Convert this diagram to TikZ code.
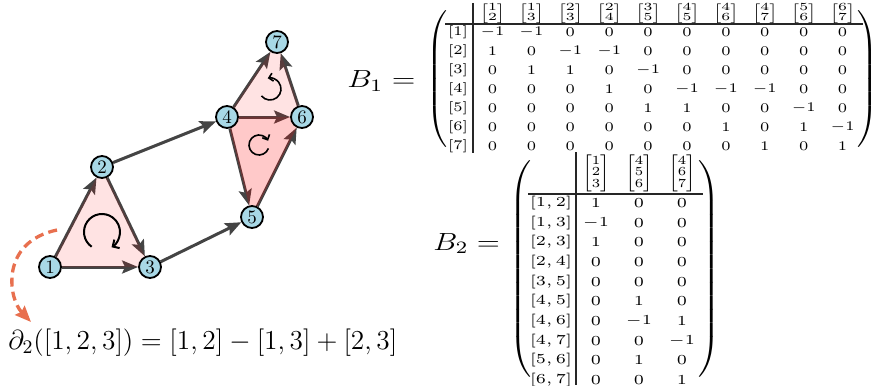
\RequirePackage{fix-cm}
\documentclass[tikz,border=0pt]{standalone}
\usepackage{amsmath}
\usepackage{graphicx}
\usetikzlibrary{arrows.meta,backgrounds}
\definecolor{edgegray}{HTML}{444444}
\definecolor{nodeblue}{HTML}{A8D8E6}
\definecolor{dashorange}{HTML}{E8704F}
\newcommand{\hdtwo}[2]{$\left[\begin{array}{@{}c@{}}#1\\#2\end{array}\right]$}
\newcommand{\hdthree}[3]{$\left[\begin{array}{@{}c@{}}#1\\#2\\#3\end{array}\right]$}
\newcommand{\lpar}[1]{{\nulldelimiterspace=0pt$\left(\vcenter{\hbox{\rule{0pt}{#1}}}\right.$}}
\newcommand{\rpar}[1]{{\nulldelimiterspace=0pt$\left.\vcenter{\hbox{\rule{0pt}{#1}}}\right)$}}
\newcommand{\sxa}[1]{\scalebox{1.15}[1]{#1}}
\newcommand{\sxb}[1]{\scalebox{1.2}[1]{#1}}
\begin{document}
\begin{tikzpicture}[x=0.5pt,y=0.5pt,
  vtx/.style={circle, draw=black, line width=0.9pt, fill=nodeblue, minimum size=11pt, inner sep=0pt, font=\fontsize{9.5}{10}\selectfont},
  edge/.style={draw=edgegray, line width=1.5pt, -{Stealth[length=8pt,width=6.5pt,inset=1.5pt]}},
  lightfill/.style={fill=red, fill opacity=0.11},
  darkfill/.style={fill=red, fill opacity=0.21},
  orient/.style={draw=black, line width=1pt, -{Straight Barb[length=2.5pt,width=5pt]}},
  orientsmall/.style={draw=black, line width=0.8pt, -{Straight Barb[length=2pt,width=4pt]}},
  enta/.style={inner sep=0pt, font=\fontsize{6.6}{7.7}\selectfont},
  entb/.style={inner sep=0pt, font=\fontsize{6.9}{8.2}\selectfont},
  hd/.style={inner sep=0pt, font=\fontsize{6}{5.5}\selectfont},
  rulel/.style={draw=black!85, line width=0.6pt},
  big/.style={inner sep=0pt, font=\fontsize{12.4}{15}\selectfont},
  paren/.style={inner sep=0pt}
]
\useasboundingbox (0,0) rectangle (882,-385);

% vertices
\node[vtx] (v1) at (50,-267) {1};
\node[vtx] (v2) at (102,-167) {2};
\node[vtx] (v3) at (150,-267) {3};
\node[vtx] (v4) at (227,-117) {4};
\node[vtx] (v5) at (252,-217) {5};
\node[vtx] (v6) at (302,-117) {6};
\node[vtx] (v7) at (277,-42) {7};

\begin{pgfonlayer}{background}
\draw[edge] (v1) -- (v2);
\draw[edge] (v1) -- (v3);
\draw[edge] (v2) -- (v3);
\draw[edge] (v2) -- (v4);
\draw[edge] (v3) -- (v5);
\draw[edge] (v4) -- (v5);
\draw[edge] (v4) -- (v6);
\draw[edge] (v4) -- (v7);
\draw[edge] (v5) -- (v6);
\draw[edge] (v6) -- (v7);
\fill[lightfill] (v1.center) -- (v2.center) -- (v3.center) -- cycle;
\fill[darkfill] (v4.center) -- (v5.center) -- (v6.center) -- cycle;
\fill[lightfill] (v4.center) -- (v6.center) -- (v7.center) -- cycle;
\end{pgfonlayer}

% orientation marks
\draw[orient] ([shift={(235:18)}]102,-232) arc[start angle=235, end angle=-58, radius=18];
\draw[orientsmall] ([shift={(219:11)}]270,-89) arc[start angle=219, end angle=462, radius=11];
\draw[orientsmall] ([shift={(-20:10)}]259,-145) arc[start angle=-20, end angle=-335, radius=10];

% boundary formula
\node[inner sep=0pt, anchor=base west, font=\fontsize{13.7}{16}\selectfont] (formula) at (8,-349)
  {$\partial_2([1,2,3]) = [1,2] - [1,3] + [2,3]$};
\coordinate (dstart) at (57,-230);
\coordinate (dend) at (31,-322);
\draw[dashorange, line width=1.65pt, dash pattern=on 4.5pt off 2.6pt,
  -{Stealth[length=8pt,width=6.5pt,inset=1pt]}]
  (dstart) .. controls (0,-242) and (8,-298) .. (dend);

% ---------- B1 ----------
\node[big, anchor=base west] (b1lab) at (347,-88) {\scalebox{1.25}[1]{$B_1 =$}};
\node[paren] (b1lp) at (437,-79) {\resizebox*{10.5pt}{68pt}{\lpar{60pt}}};
\node[paren] (b1rp) at (868,-79) {\resizebox*{10.5pt}{68pt}{\rpar{60pt}}};
\foreach \a/\b [count=\j] in {1/2,1/3,2/3,2/4,3/5,4/5,4/6,4/7,5/6,6/7}
  \node[hd] (b1h\j) at ({492.5+38.9*(\j-1)},-13.8) {\resizebox*{12.5pt}{10pt}{\hdtwo{\a}{\b}}};
\foreach \i in {1,...,7}
  \node[enta] (b1r\i) at (458,{-(32.5+18.9*(\i-1))}) {\sxa{$[\i]$}};
\foreach \row [count=\i] in {
  {-1,-1,0,0,0,0,0,0,0,0},
  {1,0,-1,-1,0,0,0,0,0,0},
  {0,1,1,0,-1,0,0,0,0,0},
  {0,0,0,1,0,-1,-1,-1,0,0},
  {0,0,0,0,1,1,0,0,-1,0},
  {0,0,0,0,0,0,1,0,1,-1},
  {0,0,0,0,0,0,0,1,0,1}}
  \foreach \v [count=\j] in \row
    \node[enta] (b1e\i\j) at ({492.5+38.9*(\j-1)},{-(32.5+18.9*(\i-1))}) {\sxa{$\v$}};
\draw[rulel] (473,-3) -- (473,-153);
\draw[rulel] (445,-24) -- (863,-24);

% ---------- B2 ----------
\node[big, anchor=base west] (b2lab) at (433,-250) {\scalebox{1.22}[1]{$B_2 =$}};
\node[paren] (b2lp) at (520,-269) {\resizebox*{11pt}{113pt}{\lpar{100pt}}};
\node[paren] (b2rp) at (709,-269) {\resizebox*{11pt}{113pt}{\rpar{100pt}}};
\foreach \a/\b/\c [count=\j] in {1/2/3,4/5/6,4/6/7}
  \node[hd] (b2h\j) at ({596+43*(\j-1)},-173.5) {\resizebox*{13.5pt}{18.5pt}{\hdthree{\a}{\b}{\c}}};
\foreach \lab [count=\i] in {{1,2},{1,3},{2,3},{2,4},{3,5},{4,5},{4,6},{4,7},{5,6},{6,7}}
  \node[entb] (b2r\i) at (551,{-(203+19.67*(\i-1))}) {\sxb{$[\lab]$}};
\foreach \row [count=\i] in {
  {1,0,0},{-1,0,0},{1,0,0},{0,0,0},{0,0,0},
  {0,1,0},{0,-1,1},{0,0,-1},{0,1,0},{0,0,1}}
  \foreach \v [count=\j] in \row
    \node[entb] (b2e\i\j) at ({596+43*(\j-1)},{-(203+19.67*(\i-1))}) {\sxb{$\v$}};
\draw[rulel] (576,-152) -- (576,-385);
\draw[rulel] (528,-194) -- (703,-194);
\end{tikzpicture}
\end{document}
